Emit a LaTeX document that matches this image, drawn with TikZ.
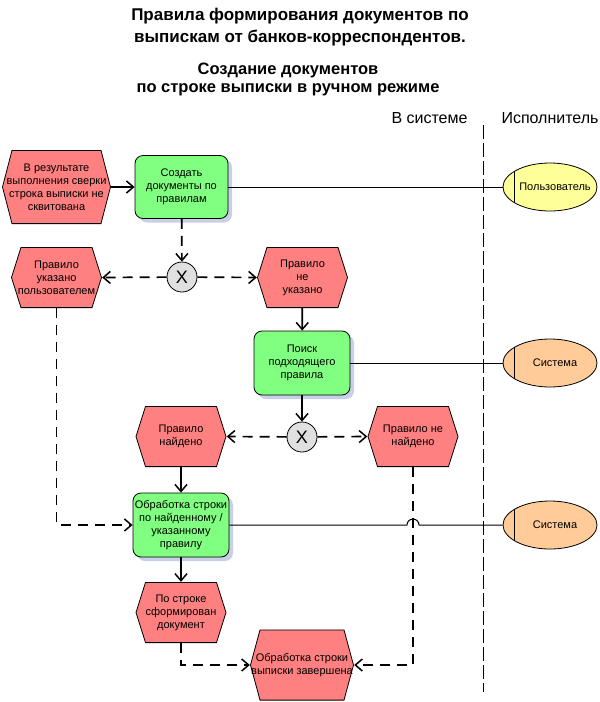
\documentclass[tikz,border=0pt]{standalone}
\usepackage{fontspec}
\setmainfont{Liberation Sans}
\usepackage{tikz}
\usetikzlibrary{arrows.meta,calc,shapes.geometric,shadows,positioning}
\definecolor{evtred}{HTML}{FF8080}
\definecolor{fungreen}{HTML}{80FF80}
\definecolor{useryellow}{HTML}{FFFF99}
\definecolor{sysorange}{HTML}{FFCC99}
\definecolor{xorgray}{HTML}{E0E0E0}
\definecolor{shadowblue}{HTML}{C8D0E8}
\tikzset{
  evt/.style={rectangle, minimum width=91, minimum height=61, inner sep=0pt, align=center,
    font=\fontsize{11}{13}\selectfont,
    path picture={\draw[fill=evtred, line width=0.8pt]
      ([xshift=0.5pt]path picture bounding box.west)
      -- ([xshift=10pt,yshift=-0.4pt]path picture bounding box.north west)
      -- ([xshift=-10pt,yshift=-0.4pt]path picture bounding box.north east)
      -- ([xshift=-0.5pt]path picture bounding box.east)
      -- ([xshift=-10pt,yshift=0.4pt]path picture bounding box.south east)
      -- ([xshift=10pt,yshift=0.4pt]path picture bounding box.south west) -- cycle;}},
  fun/.style={rectangle, rounded corners=8pt, draw, fill=fungreen, line width=0.8pt,
    minimum width=96, minimum height=64, inner sep=0pt, align=center, font=\fontsize{11}{13}\selectfont,
    drop shadow={shadow xshift=4pt, shadow yshift=-4pt, fill=shadowblue, opacity=1}},
  org/.style={ellipse, draw, line width=0.8pt, minimum width=94, minimum height=48, inner xsep=-15pt, inner ysep=0pt,
    font=\fontsize{11}{13}\selectfont,
    path picture={\draw[line width=0.8pt] ([xshift=11pt]path picture bounding box.west) ++(0,-30) -- ++(0,60);}},
  xor/.style={circle, draw, fill=xorgray, line width=0.8pt, minimum size=30, inner sep=0pt, font=\fontsize{18}{18}\selectfont},
  flow/.style={line width=1.7pt, dash pattern=on 10pt off 7pt, -{Straight Barb[length=7pt,width=12pt,line width=1.5pt]}},
  link/.style={line width=1pt},
}
\begin{document}
\begin{tikzpicture}[x=1pt,y=-1pt]
\useasboundingbox (0,0) rectangle (600,702);
\node[font=\fontsize{17}{22}\bfseries\selectfont, align=center] (title) at (300,27) {Правила формирования документов по\\выпискам от банков-корреспондентов.};
\node[font=\fontsize{16.5}{18}\bfseries\selectfont, align=center] (subtitle) at (288,79) {Создание документов\\по строке выписки в ручном режиме};
\node[font=\fontsize{16}{18}\selectfont] (lanesys) at (429.5,118) {В системе};
\node[font=\fontsize{16}{18}\selectfont] (laneexec) at (550,118) {Исполнитель};
\coordinate (divtop) at (483,125);
\coordinate (divbot) at (483,692);
\draw[line width=0.8pt, dash pattern=on 14pt off 4pt] (divtop) -- (divbot);

\node[evt, minimum width=109, minimum height=74] (start) at (56.5,187) {В результате\\выполнения сверки\\строка выписки не\\сквитована};
\node[fun, minimum width=93, minimum height=63] (create) at (181.5,187) {Создать\\документы по\\правилам};
\node[org, fill=useryellow] (user) at (550,187) {\hspace{10pt}Пользователь};
\node[xor] (xor1) at (182,277) {X};
\node[evt] (byuser) at (56.5,277.5) {Правило\\указано\\пользователем};
\node[evt] (nouser) at (302.5,277.5) {Правило\\не\\указано};
\node[fun] (search) at (302,363) {Поиск\\подходящего\\правила};
\node[org, fill=sysorange] (sys1) at (550,363) {\hspace{10pt}Система};
\node[xor] (xor2) at (302,437) {X};
\node[evt] (found) at (181,436.5) {Правило\\найдено};
\node[evt] (notfound) at (413,436.5) {Правило не\\найдено};
\node[fun] (process) at (181,525) {Обработка строки\\по найденному /\\указанному\\правилу};
\node[org, fill=sysorange] (sys2) at (550,525) {\hspace{10pt}Система};
\node[evt] (made) at (181,612.5) {По строке\\сформирован\\документ};
\node[evt, minimum width=104, minimum height=71] (done) at (302,665) {Обработка строки\\выписки завершена};

\draw[link] (create.east) -- (user.west);
\draw[link] (search.east) -- (sys1.west);
\coordinate (hop) at (process.east -| notfound.south);
\draw[link] (process.east) -- ([xshift=-6pt]hop) arc[start angle=180, end angle=360, radius=6] -- (sys2.west);

\draw[flow, solid] (start) -- (create);
\draw[flow] (create) -- (xor1);
\draw[flow] (xor1) -- (byuser.east);
\draw[flow] (xor1) -- (nouser.west);
\draw[flow, solid] (nouser) -- (search);
\draw[flow, solid] (search) -- (xor2);
\draw[flow] (xor2) -- (found.east);
\draw[flow] (xor2) -- (notfound.west);
\draw[flow, solid] (found) -- (process);
\draw[flow] (byuser.south) |- (process.west);
\draw[flow, solid] (process) -- (made);
\draw[flow] (made.south) |- (done.west);
\draw[flow] (notfound.south) |- (done.east);
\end{tikzpicture}
\end{document}
